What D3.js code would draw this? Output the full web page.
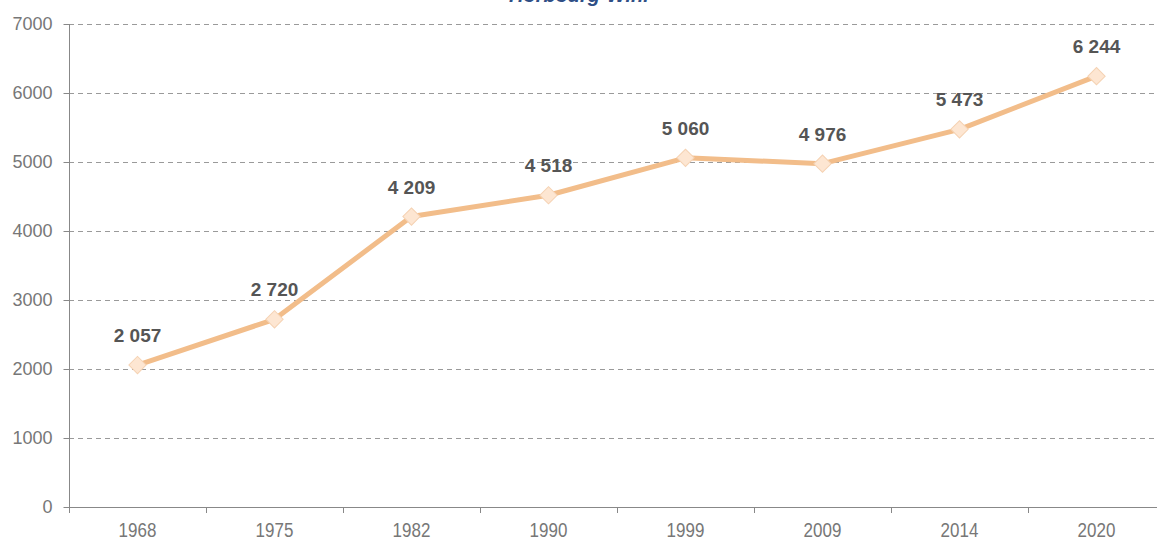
<!DOCTYPE html>
<html><head><meta charset="utf-8">
<script src="https://cdn.jsdelivr.net/npm/d3@7"></script>
<style>body{margin:0;background:#fff;}svg{display:block;font-family:"Liberation Sans",Arial,sans-serif;}</style>
</head><body>
<svg id="c" width="1157" height="542"></svg>
<script>
const years = ["1968","1975","1982","1990","1999","2009","2014","2020"];
const population = [2057,2720,4209,4518,5060,4976,5473,6244];
const labels = ["2 057","2 720","4 209","4 518","5 060","4 976","5 473","6 244"];
const yTicks = [0,1000,2000,3000,4000,5000,6000,7000];
const title = "Horbourg-Wihr";

const svg = d3.select("#c");
const x = d3.scaleBand().domain(years).range([69,1165]);
const y = d3.scaleLinear().domain([0,7000]).range([507,24]);

svg.append("text").attr("x",580).attr("y",2).attr("text-anchor","middle")
  .attr("font-size",20).attr("font-weight","bold").attr("font-style","italic")
  .attr("fill","#2f4f86").text(title);

// gridlines
svg.append("g").selectAll("line").data(yTicks.filter(d=>d>0)).join("line")
  .attr("x1",69).attr("x2",1157).attr("y1",d=>Math.round(y(d))+0.5).attr("y2",d=>Math.round(y(d))+0.5)
  .attr("stroke","#9a9a9a").attr("stroke-dasharray","5,4").attr("stroke-width",1);

// y axis
const ya = svg.append("g").attr("transform","translate(69.5,0)")
  .call(d3.axisLeft(y).tickValues(yTicks).tickSize(6).tickPadding(11).tickFormat(d3.format("d")));
ya.select(".domain").attr("stroke","#888").attr("d","M0,24V513");
ya.selectAll(".tick line").attr("stroke","#888");
ya.selectAll("text").attr("font-size",18).attr("fill","#777").attr("font-family","Liberation Sans, Arial, sans-serif");

// x axis
const xa = svg.append("g").attr("transform","translate(0,507.5)")
  .call(d3.axisBottom(x).tickSize(0).tickFormat(""));
xa.select(".domain").attr("stroke","#888").attr("d","M64,0H1157");
svg.append("g").selectAll("text").data(years).join("text")
  .attr("transform",d=>`translate(${x(d)+x.bandwidth()/2},537) scale(1,1.15)`)
  .attr("text-anchor","middle").attr("font-size",17).attr("fill","#777").text(d=>d);
// boundary ticks
const bounds = years.map(d=>x(d)).concat([x(years[years.length-1])+x.bandwidth()]);
svg.append("g").selectAll("line").data(bounds).join("line")
  .attr("x1",d=>Math.round(d)+0.5).attr("x2",d=>Math.round(d)+0.5).attr("y1",507).attr("y2",513)
  .attr("stroke","#888");

const cx = (d,i)=>x(years[i])+x.bandwidth()/2;
const line = d3.line().x((d,i)=>cx(d,i)).y(d=>y(d));
svg.append("path").datum(population).attr("d",line).attr("fill","none")
  .attr("stroke","#f2bd8a").attr("stroke-width",5).attr("stroke-linejoin","round");

svg.append("g").selectAll("path").data(population).join("path")
  .attr("d",d3.symbol(d3.symbolSquare, 150))
  .attr("transform",(d,i)=>`translate(${cx(d,i)},${y(d)}) rotate(45)`)
  .attr("fill","#fde6d2").attr("stroke","#f5d2b3").attr("stroke-width",1);

svg.append("g").selectAll("text").data(population).join("text")
  .attr("x",(d,i)=>cx(d,i)).attr("y",d=>y(d)-23).attr("text-anchor","middle")
  .attr("font-size",19).attr("font-weight","bold").attr("fill","#555")
  .text((d,i)=>labels[i]);
</script>
</body></html>
